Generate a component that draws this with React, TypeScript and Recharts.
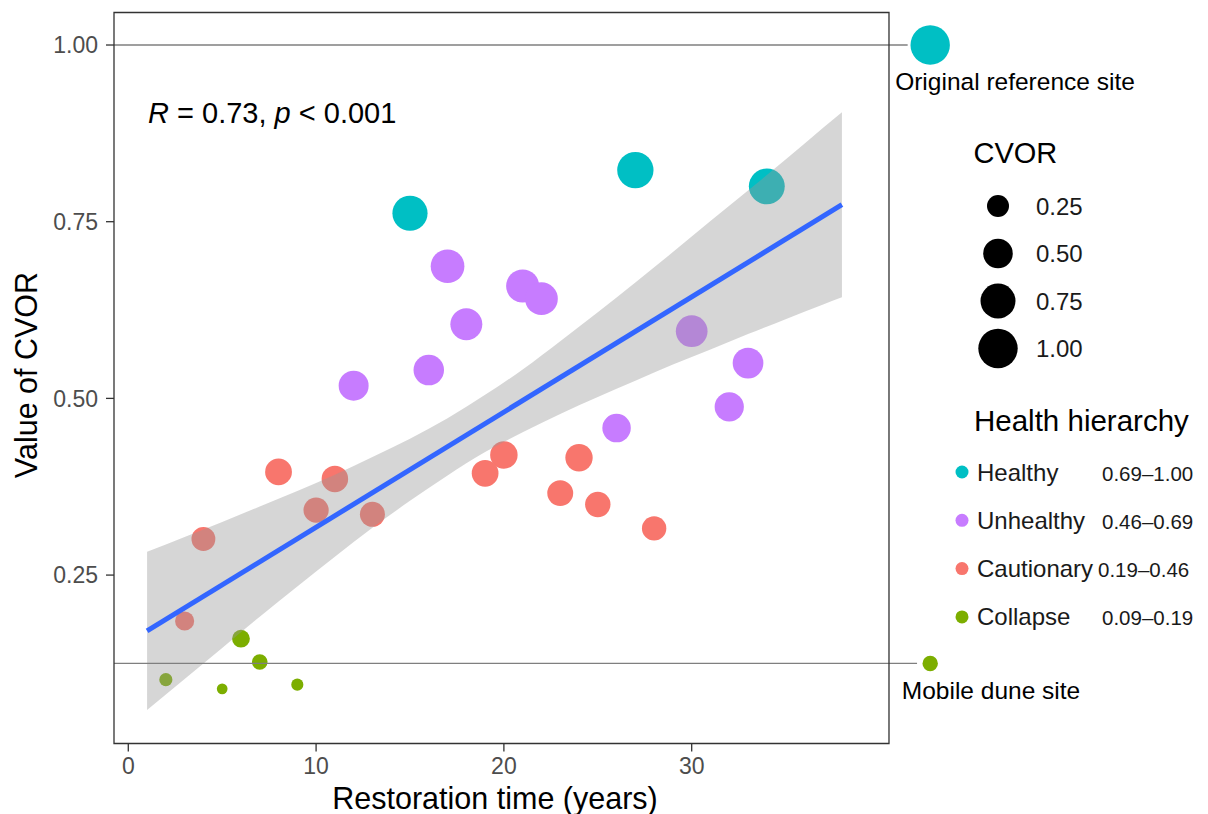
import React from 'react';
import {
  ComposedChart, XAxis, YAxis, Scatter, Area, Line, ReferenceLine, ReferenceArea,
} from 'recharts';

// ---- data (restoration years, CVOR value) ----
const healthy = [
  { x: 15, y: 0.762 }, { x: 27, y: 0.823 }, { x: 34, y: 0.800 },
];
const unhealthy = [
  { x: 17, y: 0.687 }, { x: 21, y: 0.659 }, { x: 22, y: 0.641 }, { x: 18, y: 0.605 },
  { x: 30, y: 0.595 }, { x: 12, y: 0.518 }, { x: 16, y: 0.540 }, { x: 33, y: 0.550 },
  { x: 32, y: 0.488 }, { x: 26, y: 0.458 },
];
const cautionary = [
  { x: 8, y: 0.396 }, { x: 11, y: 0.386 }, { x: 10, y: 0.342 }, { x: 13, y: 0.336 },
  { x: 4, y: 0.301 }, { x: 20, y: 0.420 }, { x: 19, y: 0.394 }, { x: 24, y: 0.416 },
  { x: 23, y: 0.366 }, { x: 25, y: 0.350 }, { x: 28, y: 0.316 }, { x: 3, y: 0.185 },
];
const collapse = [
  { x: 2, y: 0.102 }, { x: 5, y: 0.089 }, { x: 6, y: 0.160 }, { x: 7, y: 0.127 }, { x: 9, y: 0.095 },
];
const referenceSite = [{ x: 42.7, y: 1.0 }];
const duneSite = [{ x: 42.7, y: 0.125 }];

// fitted line and its confidence band
const fitLine = [{ x: 1, y: 0.171 }, { x: 38, y: 0.774 }];
const band = [
  { x: 1, lo: 0.059, hi: 0.283 },
  { x: 3, lo: 0.103, hi: 0.304 },
  { x: 5, lo: 0.147, hi: 0.325 },
  { x: 7, lo: 0.191, hi: 0.347 },
  { x: 9, lo: 0.234, hi: 0.369 },
  { x: 11, lo: 0.276, hi: 0.392 },
  { x: 13, lo: 0.317, hi: 0.417 },
  { x: 15, lo: 0.355, hi: 0.443 },
  { x: 17, lo: 0.391, hi: 0.472 },
  { x: 19, lo: 0.424, hi: 0.505 },
  { x: 21, lo: 0.452, hi: 0.541 },
  { x: 23, lo: 0.478, hi: 0.581 },
  { x: 25, lo: 0.502, hi: 0.622 },
  { x: 27, lo: 0.525, hi: 0.664 },
  { x: 29, lo: 0.548, hi: 0.707 },
  { x: 31, lo: 0.569, hi: 0.751 },
  { x: 33, lo: 0.591, hi: 0.794 },
  { x: 35, lo: 0.612, hi: 0.838 },
  { x: 37, lo: 0.633, hi: 0.883 },
  { x: 38, lo: 0.643, hi: 0.905 },
];

const xTicks = [0, 10, 20, 30];
const yTicks = [0.25, 0.5, 0.75, 1.0];
const sizeLegend = [0.25, 0.5, 0.75, 1.0];
const healthLevels = [
  { name: 'Healthy', range: '0.69–1.00' },
  { name: 'Unhealthy', range: '0.46–0.69' },
  { name: 'Cautionary', range: '0.19–0.46' },
  { name: 'Collapse', range: '0.09–0.19' },
];

const COLORS = ['#00BFC4', '#C77CFF', '#F8766D', '#7CAE00'];

const XMIN = -0.761;
const XMAX = 44.287;
const XPANEL = 40.506;
const YMIN = 0.0117;
const YMAX = 1.046;

const radius = (v: number) => 4.64 + 15.06 * Math.sqrt(Math.max(0, (v - 0.087) / 0.913));

const dotShape = (color: string) => (props: any) => {
  const { cx, cy, payload } = props;
  if (cx == null || cy == null) return <g />;
  return <circle cx={cx} cy={cy} r={radius(payload.y)} fill={color} />;
};

const FONT = '"Liberation Sans", Arial, Helvetica, sans-serif';

export default function App() {
  const rangeX = [1102, 1102, 1098, 1102];
  return (
    <div style={{ position: 'absolute', left: 0, top: 0, width: 1208, height: 814, background: '#fff', fontFamily: FONT }}>
      <ComposedChart width={1208} height={814} margin={{ top: 12.5, right: 248, bottom: 0, left: 0 }}>
        <XAxis
          type="number" dataKey="x" domain={[XMIN, XMAX]} ticks={xTicks} allowDataOverflow
          axisLine={false} tickSize={8} tickMargin={6} height={70.5}
          tick={{ fill: '#4D4D4D', fontSize: 23 }} tickLine={{ stroke: '#333333', strokeWidth: 1.3 }}
        />
        <YAxis
          type="number" dataKey="y" domain={[YMIN, YMAX]} ticks={yTicks} allowDataOverflow
          tickFormatter={(v: number) => v.toFixed(2)}
          axisLine={false} tickSize={8} tickMargin={8} width={114}
          tick={{ fill: '#4D4D4D', fontSize: 23 }} tickLine={{ stroke: '#333333', strokeWidth: 1.3 }}
        />
        <Scatter data={healthy} fill={COLORS[0]} shape={dotShape(COLORS[0])} isAnimationActive={false} zIndex={100} />
        <Scatter data={unhealthy} fill={COLORS[1]} shape={dotShape(COLORS[1])} isAnimationActive={false} zIndex={100} />
        <Scatter data={cautionary} fill={COLORS[2]} shape={dotShape(COLORS[2])} isAnimationActive={false} zIndex={100} />
        <Scatter data={collapse} fill={COLORS[3]} shape={dotShape(COLORS[3])} isAnimationActive={false} zIndex={100} />
        <Scatter data={referenceSite} fill={COLORS[0]} shape={dotShape(COLORS[0])} isAnimationActive={false} zIndex={100} />
        <Scatter data={duneSite} fill={COLORS[3]} shape={dotShape(COLORS[3])} isAnimationActive={false} zIndex={100} />
        <Area
          data={band} dataKey={(d: any) => [d.lo, d.hi]} type="monotone"
          stroke="none" fill="#999999" fillOpacity={0.4} isAnimationActive={false} zIndex={200}
        />
        <ReferenceLine segment={[{ x: XMIN, y: 1.0 }, { x: 41.5, y: 1.0 }]} stroke="#7F7F7F" strokeWidth={1.3} ifOverflow="visible" zIndex={250} />
        <ReferenceLine segment={[{ x: XMIN, y: 0.125 }, { x: 42.0, y: 0.125 }]} stroke="#7F7F7F" strokeWidth={1.3} ifOverflow="visible" zIndex={250} />
        <Line data={fitLine} dataKey="y" type="linear" stroke="#3366FF" strokeWidth={5} dot={false} activeDot={false} isAnimationActive={false} zIndex={300} />
        <ReferenceArea x1={XMIN} x2={XPANEL} y1={YMIN} y2={YMAX} fill="none" fillOpacity={0} stroke="#333333" strokeWidth={1.3} ifOverflow="visible" zIndex={700} />
      </ComposedChart>
      <svg width={1208} height={814} style={{ position: 'absolute', left: 0, top: 0, pointerEvents: 'none', fontFamily: FONT }}>
        <text x={148} y={123} fontSize={29} fill="#000">
          <tspan fontStyle="italic">R</tspan> = 0.73, <tspan fontStyle="italic">p</tspan> &lt; 0.001
        </text>
        <text x={1015} y={90} fontSize={24.5} textAnchor="middle" fill="#000">Original reference site</text>
        <text x={991} y={699} fontSize={24.5} textAnchor="middle" fill="#000">Mobile dune site</text>
        <text x={495} y={809} fontSize={30.5} textAnchor="middle" fill="#000">Restoration time (years)</text>
        <text x={37} y={375} fontSize={30.5} textAnchor="middle" fill="#000" transform="rotate(-90 37 375)">Value of CVOR</text>
        {/* size legend */}
        <text x={973.5} y={163} fontSize={29} fill="#000">CVOR</text>
        {sizeLegend.map((v, i) => (
          <g key={v}>
            <circle cx={998} cy={206 + i * 47.5} r={radius(v)} fill="#000" />
            <text x={1036} y={206 + i * 47.5} fontSize={24} dominantBaseline="central" fill="#1A1A1A">{v.toFixed(2)}</text>
          </g>
        ))}
        {/* colour legend */}
        <text x={974} y={431} fontSize={29.5} fill="#000">Health hierarchy</text>
        {healthLevels.map((h, i) => (
          <g key={h.name}>
            <circle cx={962} cy={472 + i * 48.3} r={6.5} fill={COLORS[i]} />
            <text x={977} y={472 + i * 48.3} fontSize={24} dominantBaseline="central" fill="#1A1A1A">{h.name}</text>
            <text x={rangeX[i]} y={473 + i * 48.3} fontSize={20.5} dominantBaseline="central" fill="#1A1A1A">{h.range}</text>
          </g>
        ))}
      </svg>
    </div>
  );
}
